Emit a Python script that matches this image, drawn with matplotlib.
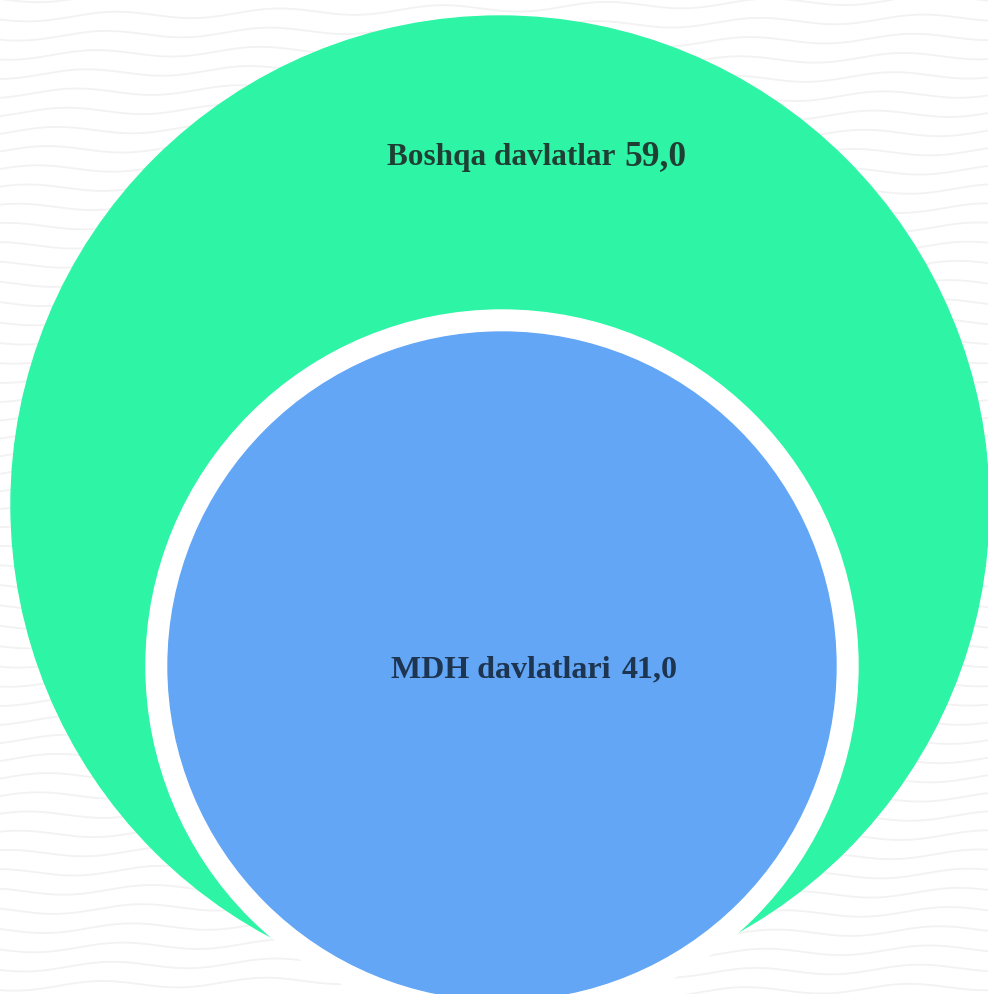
import numpy as np
import matplotlib.pyplot as plt
from matplotlib.patches import Circle

# shares, %
labels = ['Boshqa davlatlar', 'MDH davlatlari']
values = [59.0, 41.0]
colors = ['#2ef5a5', '#63a6f5']
text_colors = ['#1f3f35', '#1d3550']

W, H = 988, 994
fig = plt.figure(figsize=(W / 100, H / 100), dpi=100)
ax = fig.add_axes([0, 0, 1, 1])
ax.set_xlim(0, W)
ax.set_ylim(H, 0)
ax.set_aspect('equal')
ax.axis('off')

# faint wavy background texture
xs = np.linspace(0, W, 800)
for y0 in np.arange(-20, H + 40, 19):
    ax.plot(xs, y0 + 4 * np.sin(xs / 26.0 + y0 / 50.0) - xs * 0.02,
            color='#f2f2f2', lw=1.3, zorder=0)

# outer circle (others), inner circle (CIS) with white ring
ax.add_patch(Circle((500, 505), 489, color=colors[0], zorder=1))
ax.add_patch(Circle((502, 666), 356, color='white', zorder=2))
ax.add_patch(Circle((502, 666), 334, color=colors[1], zorder=3))

def fmt(v):
    return f'{v:.1f}'.replace('.', ',')

serif = ['Liberation Serif', 'DejaVu Serif']
ax.text(615, 158, labels[0], ha='right', va='center', fontsize=22.5,
        fontweight='bold', family=serif, color=text_colors[0], zorder=4)
ax.text(624, 157, fmt(values[0]), ha='left', va='center', fontsize=25.5,
        fontweight='bold', family=serif, color=text_colors[0], zorder=4)
ax.text(611, 671, labels[1], ha='right', va='center', fontsize=23,
        fontweight='bold', family=serif, color=text_colors[1], zorder=4)
ax.text(622, 670, fmt(values[1]), ha='left', va='center', fontsize=23,
        fontweight='bold', family=serif, color=text_colors[1], zorder=4)

fig.savefig('out.png', dpi=100)
